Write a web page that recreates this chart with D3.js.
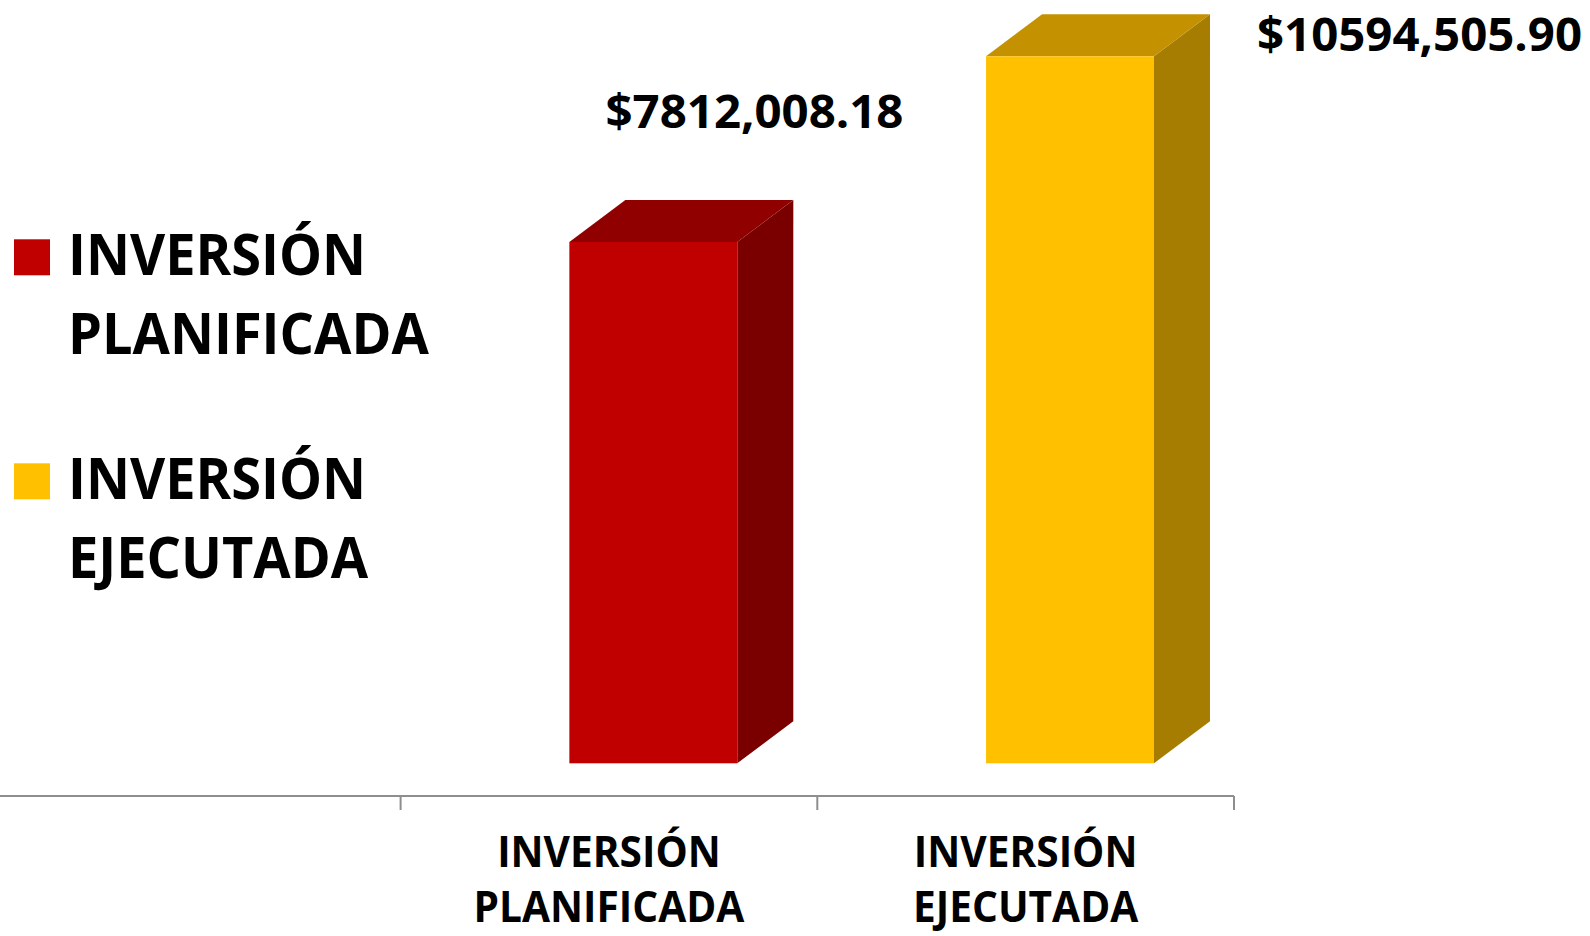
<!DOCTYPE html>
<html>
<head>
<meta charset="utf-8">
<script src="https://cdn.jsdelivr.net/npm/d3@7"></script>
<style>
  html, body { margin: 0; padding: 0; background: #ffffff; overflow: hidden; }
  svg { display: block; }
  text { font-family: "Open Sans", "Noto Sans", sans-serif; font-weight: 700; fill: #000; }
</style>
</head>
<body>
<svg id="chart" width="1590" height="936"></svg>
<script>
// ---- data ----
const categories = ["INVERSIÓN PLANIFICADA", "INVERSIÓN EJECUTADA"];
const values = [7812008.18, 10594505.90];
const frontColors = ["#C00000", "#FFC000"];
const topColors = ["#910000", "#C49200"];
const sideColors = ["#7A0000", "#A67D00"];
const legendLabels = [["INVERSIÓN", "PLANIFICADA"], ["INVERSIÓN", "EJECUTADA"]];
const categoryLines = [["INVERSIÓN", "PLANIFICADA"], ["INVERSIÓN", "EJECUTADA"]];

// ---- layout ----
const W = 1590, H = 936;
const baseY = 763.3;      // bar floor (front)
const axisY = 796;
const dx = 56, dy = 42;   // 3D depth

const svg = d3.select("#chart");

const x = d3.scaleBand().domain(categories).range([400.6, 1234]).paddingInner(0).paddingOuter(0);
const y = d3.scaleLinear().domain([0, 11000000]).range([baseY, 29.2]);
const bw = x.bandwidth();
const frontOffset = bw * 0.405;
const frontW = bw * 0.403;

function fmt(v) {
  const thousands = Math.floor(v / 1000);
  const rest = Math.floor(v % 1000);
  const cents = Math.round((v - Math.floor(v)) * 100);
  return "$" + thousands + "," + String(rest).padStart(3, "0") + "." + String(cents).padStart(2, "0");
}

function fitWidth(sel, factor) {
  sel.each(function() {
    const w = this.getComputedTextLength();
    d3.select(this).attr("textLength", w * factor).attr("lengthAdjust", "spacingAndGlyphs");
  });
}

// ---- axis ----
svg.append("line")
  .attr("x1", 0).attr("x2", x.range()[1])
  .attr("y1", axisY).attr("y2", axisY)
  .attr("stroke", "#8E8E8E").attr("stroke-width", 2.2);
const tickXs = categories.map(c => x(c)).concat([x.range()[1]]);
svg.selectAll("line.tick").data(tickXs).enter().append("line")
  .attr("class", "tick")
  .attr("x1", d => d).attr("x2", d => d)
  .attr("y1", axisY).attr("y2", axisY + 14)
  .attr("stroke", "#8E8E8E").attr("stroke-width", 2);

// ---- bars ----
const bars = svg.selectAll("g.bar").data(values).enter().append("g").attr("class", "bar");
bars.each(function(v, i) {
  const g = d3.select(this);
  const fl = x(categories[i]) + frontOffset;
  const fr = fl + frontW;
  const top = y(v);
  // side
  g.append("polygon")
    .attr("points", [[fr, top], [fr + dx, top - dy], [fr + dx, baseY - dy], [fr, baseY]].map(p => p.join(",")).join(" "))
    .attr("fill", sideColors[i]);
  // top
  g.append("polygon")
    .attr("points", [[fl, top], [fl + dx, top - dy], [fr + dx, top - dy], [fr, top]].map(p => p.join(",")).join(" "))
    .attr("fill", topColors[i]);
  // front
  g.append("rect")
    .attr("x", fl).attr("y", top).attr("width", frontW).attr("height", baseY - top)
    .attr("fill", frontColors[i]);

  // value label
  const backTop = top - dy;
  const t = g.append("text").attr("font-size", 46).text(fmt(v));
  if (backTop - 72 - 34 < 0) {
    t.attr("x", fr + dx + 47).attr("y", backTop + 37).attr("text-anchor", "start");
  } else {
    t.attr("x", fr + dx - 38.8).attr("y", backTop - 72).attr("text-anchor", "middle");
  }
  fitWidth(t, 1.03);
});

// ---- category labels (one text element per category, two lines) ----
const catG = svg.selectAll("text.cat").data(categories).enter().append("text")
  .attr("class", "cat")
  .attr("font-size", 43)
  .attr("text-anchor", "middle")
  .attr("transform", c => `translate(${x(c) + bw / 2},0) scale(0.945,1)`);
catG.each(function(c, i) {
  const t = d3.select(this);
  categoryLines[i].forEach((ln, j) => {
    t.append("tspan").attr("x", 0).attr("y", 867 + j * 55).text(ln);
  });
});

// ---- legend ----
const legY = [239.3, 463.3];
const leg = svg.selectAll("g.legend").data(legendLabels).enter().append("g").attr("class", "legend");
leg.each(function(lines, i) {
  const g = d3.select(this);
  g.append("rect").attr("x", 14).attr("y", legY[i]).attr("width", 36).attr("height", 36)
    .attr("fill", frontColors[i]);
  lines.forEach((ln, j) => {
    const t = g.append("text")
      .attr("x", 68).attr("y", legY[i] + 36 + j * 78.3)
      .attr("font-size", 57)
      .text(ln);
    fitWidth(t, 0.95);
  });
});
</script>
</body>
</html>
